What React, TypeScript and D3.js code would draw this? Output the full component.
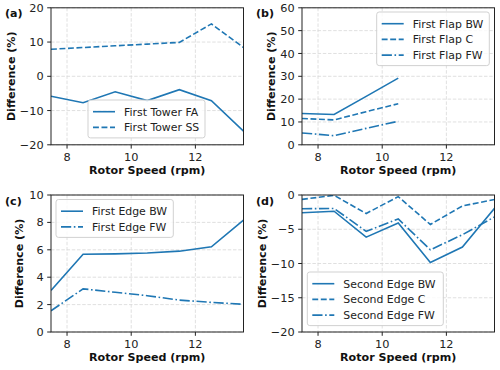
import React from "react";
import * as d3 from "d3";

const rpm = [7.5, 8.5, 9.5, 10.5, 11.5, 12.5, 13.5];
const rpmFlap = [7.5, 8.5, 9.5, 10.5];
const xTicks = [8, 10, 12];

const towerFA = [-5.8, -7.7, -4.5, -7.1, -3.9, -7.1, -16.0];
const towerSS = [7.9, 8.4, 8.9, 9.4, 9.9, 15.3, 8.4];

const flapBW = [13.7, 13.3, 21.2, 29.2];
const flapC = [11.5, 10.9, 14.5, 18.0];
const flapFW = [5.2, 4.0, 7.2, 10.3];

const edgeBW = [3.04, 5.68, 5.7, 5.77, 5.9, 6.22, 8.16];
const edgeFW = [1.55, 3.15, 2.9, 2.65, 2.33, 2.16, 2.02];

const edge2BW = [-2.6, -2.37, -6.15, -4.1, -9.85, -7.6, -1.95];
const edge2C = [-0.64, -0.05, -2.7, -0.24, -4.3, -1.6, -0.66];
const edge2FW = [-2.0, -1.97, -5.3, -3.5, -8.0, -5.8, -3.2];

const yTicksA = [-20, -10, 0, 10, 20];
const yTicksB = [0, 10, 20, 30, 40, 50, 60];
const yTicksC = [0, 2, 4, 6, 8, 10];
const yTicksD = [-20, -15, -10, -5, 0];

const COLOR = "#1f77b4";
const FONT = "DejaVu Sans";
const W = 192.5;
const H = 137;
const LW = 1.6;
const TICK_FS = 11.3;
const DASH = { solid: undefined, dashed: "5.9,2.6", dashdot: "10.2,2.6,1.6,2.6" } as const;

type Style = keyof typeof DASH;
interface Series { name: string; x: number[]; y: number[]; style: Style }
interface Panel {
  id: string; left: number; top: number; ylim: [number, number]; yticks: number[];
  series: Series[]; legend: { x: number; y: number; w: number }; ylabelX: number;
}

const panels: Panel[] = [
  {
    id: "a", left: 51, top: 7.8, ylim: [-20, 20], yticks: yTicksA, ylabelX: 14.5,
    series: [
      { name: "First Tower FA", x: rpm, y: towerFA, style: "solid" },
      { name: "First Tower SS", x: rpm, y: towerSS, style: "dashed" },
    ],
    legend: { x: 88, y: 100, w: 117 },
  },
  {
    id: "b", left: 302, top: 7.8, ylim: [0, 60], yticks: yTicksB, ylabelX: 274.5,
    series: [
      { name: "First Flap BW", x: rpmFlap, y: flapBW, style: "solid" },
      { name: "First Flap C", x: rpmFlap, y: flapC, style: "dashed" },
      { name: "First Flap FW", x: rpmFlap, y: flapFW, style: "dashdot" },
    ],
    legend: { x: 376.7, y: 12, w: 112.6 },
  },
  {
    id: "c", left: 51, top: 195, ylim: [0, 10], yticks: yTicksC, ylabelX: 23,
    series: [
      { name: "First Edge BW", x: rpm, y: edgeBW, style: "solid" },
      { name: "First Edge FW", x: rpm, y: edgeFW, style: "dashdot" },
    ],
    legend: { x: 56, y: 199.5, w: 117.3 },
  },
  {
    id: "d", left: 302, top: 195, ylim: [-20, 0], yticks: yTicksD, ylabelX: 266,
    series: [
      { name: "Second Edge BW", x: rpm, y: edge2BW, style: "solid" },
      { name: "Second Edge C", x: rpm, y: edge2C, style: "dashed" },
      { name: "Second Edge FW", x: rpm, y: edge2FW, style: "dashdot" },
    ],
    legend: { x: 307.3, y: 272, w: 136 },
  },
];

const fmt = (v: number) => (v < 0 ? "\u2212" + Math.abs(v) : String(v));

function PanelView({ p }: { p: Panel }) {
  const x = d3.scaleLinear().domain([7.5, 13.5]).range([p.left, p.left + W]);
  const y = d3.scaleLinear().domain(p.ylim).range([p.top + H, p.top]);
  const line = d3.line<[number, number]>().x((d) => x(d[0])).y((d) => y(d[1]));
  const bottom = p.top + H;
  const clipId = "clip-" + p.id;
  const rowH = 15.7;
  const lg = p.legend;
  const lgH = 7 + rowH * p.series.length - 0.5;
  return (
    <g>
      <defs>
        <clipPath id={clipId}>
          <rect x={p.left} y={p.top} width={W} height={H} />
        </clipPath>
      </defs>
      {xTicks.map((t) => (
        <line key={"gx" + t} x1={x(t)} x2={x(t)} y1={p.top} y2={bottom}
          stroke="#d8d8d8" strokeWidth={0.8} strokeDasharray="3.5,1.7" />
      ))}
      {p.yticks.map((t) => (
        <line key={"gy" + t} x1={p.left} x2={p.left + W} y1={y(t)} y2={y(t)}
          stroke="#d8d8d8" strokeWidth={0.8} strokeDasharray="3.5,1.7" />
      ))}
      <g clipPath={`url(#${clipId})`}>
        {p.series.map((s) => (
          <path key={s.name}
            d={line(s.x.map((v, i) => [v, s.y[i]] as [number, number])) || ""}
            fill="none" stroke={COLOR} strokeWidth={LW} strokeDasharray={DASH[s.style]} />
        ))}
      </g>
      <rect x={p.left} y={p.top} width={W} height={H} fill="none" stroke="#222" strokeWidth={1} />
      {xTicks.map((t) => (
        <g key={"tx" + t}>
          <line x1={x(t)} x2={x(t)} y1={bottom} y2={bottom + 3.8} stroke="#222" strokeWidth={1} />
          <text x={x(t)} y={bottom + 16.3} textAnchor="middle" fontSize={TICK_FS} fontFamily={FONT} fill="#222">{fmt(t)}</text>
        </g>
      ))}
      {p.yticks.map((t) => (
        <g key={"ty" + t}>
          <line x1={p.left - 3.8} x2={p.left} y1={y(t)} y2={y(t)} stroke="#222" strokeWidth={1} />
          <text x={p.left - 7.3} y={y(t)} dy="0.36em" textAnchor="end" fontSize={TICK_FS} fontFamily={FONT} fill="#222">{fmt(t)}</text>
        </g>
      ))}
      <text x={p.left + W / 2} y={bottom + 28.8} textAnchor="middle" fontSize={11.1} fontWeight="bold" fontFamily={FONT} fill="#111">Rotor Speed (rpm)</text>
      <text transform={`translate(${p.ylabelX},${p.top + H / 2}) rotate(-90)`} textAnchor="middle" fontSize={11.1} fontWeight="bold" fontFamily={FONT} fill="#111">Difference (%)</text>
      <text x={p.left - 46} y={p.top + 9.5} fontSize={11.1} fontWeight="bold" fontFamily={FONT} fill="#111">({p.id})</text>
      <rect x={lg.x} y={lg.y} width={lg.w} height={lgH} rx={2.5} fill="#fff" fillOpacity={0.8} stroke="#cccccc" strokeWidth={0.9} />
      {p.series.map((s, i) => {
        const cy = lg.y + 11.7 + i * rowH;
        return (
          <g key={"lg" + s.name}>
            <line x1={lg.x + 5} x2={lg.x + 27} y1={cy} y2={cy} stroke={COLOR} strokeWidth={LW} strokeDasharray={DASH[s.style]} />
            <text x={lg.x + 36} y={cy} dy="0.36em" fontSize={10.9} fontFamily={FONT} fill="#222">{s.name}</text>
          </g>
        );
      })}
    </g>
  );
}

export default function App() {
  return (
    <svg width={500} height={370} style={{ position: "absolute", left: 0, top: 0, background: "#fff" }}>
      <rect x={0} y={0} width={500} height={370} fill="#fff" />
      {panels.map((p) => (
        <PanelView key={p.id} p={p} />
      ))}
    </svg>
  );
}
